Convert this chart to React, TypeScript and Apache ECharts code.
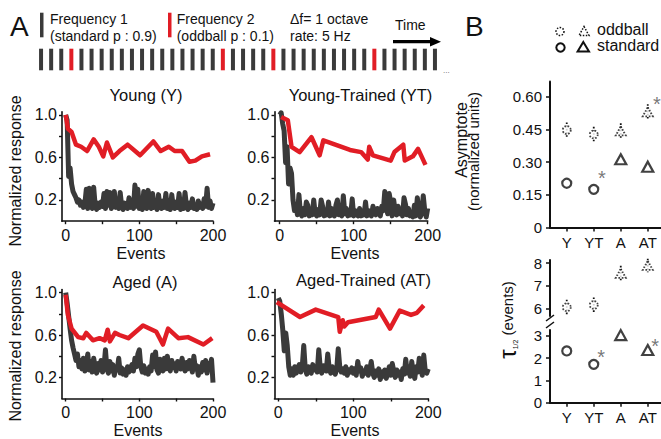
import React, { useEffect, useRef } from 'react';
import * as echarts from 'echarts';

const FONT = '"Liberation Sans", Arial, Helvetica, sans-serif';
const RED = '#e11d25';
const GRAY = '#3a3a3a';
const INK = '#111111';

// ---------- DATA ----------
// stimulus sequence: S = standard (frequency 1), O = oddball (frequency 2)
const sequence = [
  'S','S','S','O','S','S','S','S','S','S',
  'S','S','S','S','S','S','S','S','O','S',
  'S','S','S','O','S','S','S','S','S','S',
  'S','S','S','O','S','S','S','S','S','S',
];

const EVENT_STEP = 2; // gray traces are sampled every 2 events (0..200)

const grayY = [
  1.00, 0.95, 0.42, 0.50, 0.35, 0.28, 0.25, 0.22, 0.18, 0.20,
  0.15, 0.18, 0.13, 0.16, 0.30, 0.12, 0.31, 0.14, 0.12, 0.32,
  0.15, 0.11, 0.17, 0.13, 0.18, 0.14, 0.26, 0.12, 0.28, 0.15,
  0.27, 0.12, 0.16, 0.28, 0.13, 0.18, 0.12, 0.27, 0.14, 0.11,
  0.17, 0.14, 0.12, 0.22, 0.13, 0.16, 0.12, 0.34, 0.14, 0.30,
  0.12, 0.17, 0.11, 0.28, 0.14, 0.12, 0.29, 0.14, 0.12, 0.26,
  0.13, 0.18, 0.11, 0.25, 0.14, 0.12, 0.19, 0.13, 0.26, 0.12,
  0.16, 0.11, 0.25, 0.14, 0.12, 0.18, 0.13, 0.26, 0.11, 0.15,
  0.12, 0.27, 0.14, 0.11, 0.17, 0.13, 0.21, 0.12, 0.15, 0.11,
  0.19, 0.13, 0.16, 0.12, 0.21, 0.14, 0.31, 0.13, 0.19, 0.12,
  0.17,
];
const grayYT = [
  1.00, 1.02, 0.92, 0.85, 0.55, 0.70, 0.35, 0.50, 0.45, 0.20,
  0.10, 0.15, 0.06, 0.25, 0.08, 0.05, 0.12, 0.06, 0.18, 0.15,
  0.05, 0.09, 0.06, 0.20, 0.07, 0.05, 0.11, 0.06, 0.20, 0.14,
  0.05, 0.08, 0.06, 0.18, 0.05, 0.12, 0.06, 0.05, 0.15, 0.20,
  0.06, 0.09, 0.05, 0.24, 0.07, 0.12, 0.05, 0.08, 0.06, 0.21,
  0.05, 0.10, 0.06, 0.05, 0.12, 0.05, 0.08, 0.06, 0.18, 0.05,
  0.10, 0.06, 0.05, 0.14, 0.08, 0.06, 0.12, 0.09, 0.05, 0.14,
  0.10, 0.28, 0.12, 0.07, 0.26, 0.18, 0.05, 0.20, 0.10, 0.06,
  0.14, 0.07, 0.11, 0.05, 0.22, 0.16, 0.06, 0.12, 0.05, 0.08,
  0.04, 0.15, 0.05, 0.22, 0.10, 0.04, 0.08, 0.24, 0.10, 0.04,
  0.12,
];
const grayA = [
  1.00, 0.90, 0.78, 0.66, 0.55, 0.48, 0.42, 0.36, 0.42, 0.30,
  0.36, 0.28, 0.38, 0.26, 0.33, 0.42, 0.27, 0.35, 0.25, 0.38,
  0.30, 0.24, 0.33, 0.27, 0.36, 0.25, 0.30, 0.46, 0.28, 0.24,
  0.35, 0.26, 0.32, 0.22, 0.30, 0.27, 0.38, 0.24, 0.29, 0.23,
  0.27, 0.22, 0.30, 0.25, 0.28, 0.32, 0.26, 0.38, 0.30, 0.42,
  0.46, 0.30, 0.25, 0.31, 0.24, 0.28, 0.23, 0.30, 0.26, 0.41,
  0.30, 0.44, 0.27, 0.24, 0.37, 0.30, 0.26, 0.38, 0.28, 0.40,
  0.30, 0.26, 0.36, 0.29, 0.33, 0.26, 0.35, 0.30, 0.28, 0.38,
  0.30, 0.26, 0.34, 0.28, 0.36, 0.30, 0.25, 0.40, 0.28, 0.31,
  0.22, 0.30, 0.25, 0.34, 0.27, 0.36, 0.24, 0.33, 0.30, 0.37,
  0.15,
];
const grayAT = [
  0.95, 0.92, 0.80, 0.65, 0.45, 0.62, 0.50, 0.30, 0.22, 0.28,
  0.22, 0.30, 0.24, 0.28, 0.32, 0.25, 0.30, 0.50, 0.28, 0.23,
  0.30, 0.26, 0.24, 0.32, 0.27, 0.30, 0.25, 0.46, 0.29, 0.24,
  0.31, 0.27, 0.26, 0.42, 0.28, 0.24, 0.30, 0.26, 0.23, 0.28,
  0.47, 0.30, 0.25, 0.28, 0.24, 0.30, 0.22, 0.27, 0.25, 0.29,
  0.24, 0.28, 0.22, 0.35, 0.26, 0.29, 0.21, 0.26, 0.24, 0.30,
  0.22, 0.27, 0.35, 0.24, 0.20, 0.26, 0.22, 0.28, 0.18, 0.25,
  0.21, 0.27, 0.19, 0.24, 0.30, 0.22, 0.33, 0.26, 0.20, 0.27,
  0.22, 0.25, 0.18, 0.28, 0.23, 0.37, 0.24, 0.30, 0.21, 0.35,
  0.24, 0.19, 0.30, 0.25, 0.38, 0.28, 0.22, 0.41, 0.26, 0.24,
  0.28,
];

// oddball responses: [event, normalized response]
const redY = [
  [0, 1.0], [3, 0.87], [8, 0.84], [14, 0.72], [21, 0.70], [29, 0.66], [38, 0.77],
  [45, 0.70], [51, 0.61], [56, 0.74], [64, 0.60], [73, 0.66], [84, 0.72], [101, 0.62],
  [119, 0.75], [129, 0.66], [140, 0.70], [148, 0.66], [158, 0.66], [168, 0.56],
  [176, 0.57], [185, 0.61], [196, 0.63],
];
const redYT = [
  [2, 0.98], [11, 0.95], [16, 0.70], [27, 0.65], [43, 0.79], [54, 0.62], [59, 0.76],
  [95, 0.67], [110, 0.65], [119, 0.58], [121, 0.70], [126, 0.62], [150, 0.57],
  [155, 0.65], [167, 0.72], [169, 0.57], [180, 0.61], [187, 0.68], [197, 0.53],
];
const redA = [
  [0, 0.98], [3, 0.79], [8, 0.66], [17, 0.58], [24, 0.57], [28, 0.62], [37, 0.55],
  [46, 0.57], [53, 0.55], [57, 0.65], [60, 0.54], [67, 0.62], [73, 0.60], [85, 0.57],
  [105, 0.69], [123, 0.63], [132, 0.51], [139, 0.66], [153, 0.57], [166, 0.58],
  [187, 0.51], [199, 0.57],
];
const redAT = [
  [-2, 0.91], [29, 0.77], [50, 0.84], [80, 0.77], [82, 0.63], [86, 0.74], [88, 0.68],
  [93, 0.72], [130, 0.77], [134, 0.84], [149, 0.66], [162, 0.83], [177, 0.79],
  [185, 0.81], [194, 0.88],
];

const panelXTicks = [0, 50, 100, 150, 200];
const panelXLabels = [0, 100, 200];
const panelYTicks = [0.2, 0.4, 0.6, 0.8, 1.0];
const panelYLabels = [0.2, 0.6, 1.0];

// panel B
const groups = ['Y', 'YT', 'A', 'AT'];
const groupShape = ['circle', 'circle', 'triangle', 'triangle'];
const asymOddball = [0.447, 0.427, 0.443, 0.531];
const asymOddballErr = [0.035, 0.035, 0.035, 0.035];
const asymStandard = [0.203, 0.175, 0.313, 0.279];
const asymTicks = [0, 0.15, 0.3, 0.45, 0.6];
const tauOddball = [6.05, 6.15, 7.55, 7.9];
const tauOddballErr = [0.33, 0.33, 0.33, 0.3];
const tauStandard = [2.32, 1.72, 3.03, 2.36];
const tauUpperTicks = [6, 7, 8];
const tauLowerTicks = [0, 1, 2, 3];
const asymStars = [[1.3, 0.245], [3.34, 0.585]];
const tauStars = [[1.27, 2.23], [3.27, 2.73]];

// ---------- OPTION ----------
function buildOption() {
  const panels = [
    { title: 'Young (Y)', gray: grayY, red: redY, left: 62, top: 111.7, width: 151, height: 109.5, xmin: -5,
      tx: 146, ty: 95, ex: 141, ey: 253 },
    { title: 'Young-Trained (YT)', gray: grayYT, red: redYT, left: 274.5, top: 111.7, width: 153.2, height: 109.5, xmin: -7,
      tx: 360.5, ty: 95, ex: 355, ey: 253 },
    { title: 'Aged (A)', gray: grayA, red: redA, left: 62, top: 289.5, width: 151, height: 109, xmin: -5,
      tx: 145, ty: 281.7, ex: 138, ey: 430 },
    { title: 'Aged-Trained (AT)', gray: grayAT, red: redAT, left: 274.5, top: 289.5, width: 153.75, height: 109, xmin: -5,
      tx: 363.5, ty: 280, ex: 355, ey: 430 },
  ];

  const grid: any[] = [];
  const xAxis: any[] = [];
  const yAxis: any[] = [];
  const series: any[] = [];
  const graphic: any[] = [];

  const baseGrid = { containLabel: false, outerBoundsMode: 'none' };
  const axisLineA = { show: true, onZero: false, lineStyle: { color: INK, width: 1.6 } };
  const axisLineB = { show: true, onZero: false, lineStyle: { color: INK, width: 2 } };

  // grid 0: stimulus sequence
  grid.push({ ...baseGrid, left: 36, top: 48.7, width: 404, height: 21.6 });
  xAxis.push({ type: 'category', gridIndex: 0, data: sequence.map((_, i) => i), show: false });
  yAxis.push({ type: 'value', gridIndex: 0, min: 0, max: 1, show: false });
  series.push({
    type: 'bar', xAxisIndex: 0, yAxisIndex: 0, barWidth: 4,
    data: sequence.map((s) => ({ value: 1, itemStyle: { color: s === 'O' ? RED : GRAY } })),
  });

  // grids 1..4: panel A
  panels.forEach((p, k) => {
    const gi = k + 1;
    grid.push({ ...baseGrid, left: p.left, top: p.top, width: p.width, height: p.height });
    xAxis.push({
      type: 'value', gridIndex: gi, min: p.xmin, max: 200,
      axisLine: axisLineA, splitLine: { show: false },
      axisTick: { show: true, length: 3, customValues: panelXTicks, lineStyle: { color: INK, width: 1.4 } },
      axisLabel: { customValues: panelXLabels, fontSize: 16, fontFamily: FONT, color: INK, margin: 6 },
    });
    yAxis.push({
      type: 'value', gridIndex: gi, min: 0, max: 1.03,
      axisLine: axisLineA, splitLine: { show: false },
      axisTick: { show: true, length: 3, customValues: panelYTicks, lineStyle: { color: INK, width: 1.4 } },
      axisLabel: { customValues: panelYLabels, fontSize: 16, fontFamily: FONT, color: INK, margin: 5,
        formatter: (v: number) => v.toFixed(1) },
    });
    series.push({
      type: 'line', xAxisIndex: gi, yAxisIndex: gi, symbol: 'none',
      lineStyle: { color: GRAY, width: 5, join: 'round' },
      data: p.gray.map((v, i) => [i * EVENT_STEP, v]),
    });
    series.push({
      type: 'line', xAxisIndex: gi, yAxisIndex: gi, symbol: 'none',
      lineStyle: { color: RED, width: 4.5, join: 'round' },
      data: p.red,
    });
    graphic.push({ type: 'text', x: p.tx, y: p.ty,
      style: { text: p.title, fontSize: 16.5, fontFamily: FONT, fill: INK, align: 'center', verticalAlign: 'middle' } });
    graphic.push({ type: 'text', x: p.ex, y: p.ey,
      style: { text: 'Events', fontSize: 16, fontFamily: FONT, fill: INK, align: 'center', verticalAlign: 'middle' } });
  });

  // panel B grids
  const bX = { min: -0.62, max: 3.49 };
  const catLabel = (v: number) => groups[Math.round(v)] ?? '';
  // grid 5: asymptote
  grid.push({ ...baseGrid, left: 550, top: 81.5, width: 111, height: 146 });
  xAxis.push({
    type: 'value', gridIndex: 5, ...bX, axisLine: axisLineB, splitLine: { show: false },
    axisTick: { show: true, length: 4, customValues: [0, 1, 2, 3], lineStyle: { color: INK, width: 1.5 } },
    axisLabel: { customValues: [0, 1, 2, 3], formatter: catLabel, fontSize: 15, fontFamily: FONT, color: INK, margin: 7 },
  });
  yAxis.push({
    type: 'value', gridIndex: 5, min: 0, max: 0.67, axisLine: axisLineB, splitLine: { show: false },
    axisTick: { show: true, length: 4, customValues: asymTicks, lineStyle: { color: INK, width: 1.5 } },
    axisLabel: { customValues: asymTicks, fontSize: 15, fontFamily: FONT, color: INK, margin: 8,
      formatter: (v: number) => (v === 0 ? '0' : v.toFixed(2)) },
  });
  // grid 6: tau upper
  grid.push({ ...baseGrid, left: 550, top: 260, width: 111, height: 56 });
  xAxis.push({ type: 'value', gridIndex: 6, ...bX, show: false });
  yAxis.push({
    type: 'value', gridIndex: 6, min: 5.66, max: 8.14, axisLine: axisLineB, splitLine: { show: false },
    axisTick: { show: true, length: 4, customValues: tauUpperTicks, lineStyle: { color: INK, width: 1.5 } },
    axisLabel: { customValues: tauUpperTicks, fontSize: 15, fontFamily: FONT, color: INK, margin: 8 },
  });
  // grid 7: tau lower
  grid.push({ ...baseGrid, left: 550, top: 330, width: 111, height: 72.7 });
  xAxis.push({
    type: 'value', gridIndex: 7, ...bX, axisLine: axisLineB, splitLine: { show: false },
    axisTick: { show: true, length: 4, customValues: [0, 1, 2, 3], lineStyle: { color: INK, width: 1.5 } },
    axisLabel: { customValues: [0, 1, 2, 3], formatter: catLabel, fontSize: 15, fontFamily: FONT, color: INK, margin: 7 },
  });
  yAxis.push({
    type: 'value', gridIndex: 7, min: 0, max: 3.26, axisLine: axisLineB, splitLine: { show: false },
    axisTick: { show: true, length: 4, customValues: tauLowerTicks, lineStyle: { color: INK, width: 1.5 } },
    axisLabel: { customValues: tauLowerTicks, fontSize: 15, fontFamily: FONT, color: INK, margin: 8 },
  });

  const errorBar = (gi: number, vals: number[], errs: number[]) => ({
    type: 'custom', xAxisIndex: gi, yAxisIndex: gi, encode: { x: 0, y: 1 },
    data: vals.map((v, i) => [i, v, errs[i]]),
    renderItem: (_p: any, api: any) => {
      const x = api.value(0), y = api.value(1), e = api.value(2);
      const a = api.coord([x, y + e]);
      const b = api.coord([x, y - e]);
      return { type: 'line', shape: { x1: a[0], y1: a[1], x2: b[0], y2: b[1] },
        style: { stroke: INK, lineWidth: 1.8, lineDash: [1.6, 1.6] } };
    },
    z: 2,
  });
  const oddScatter = (gi: number, vals: number[]) => ({
    type: 'scatter', xAxisIndex: gi, yAxisIndex: gi, z: 3,
    data: vals.map((v, i) => ({ value: [i, v], symbol: groupShape[i],
      symbolSize: groupShape[i] === 'circle' ? 8 : [10, 9] })),
    itemStyle: { color: '#ffffff', borderColor: INK, borderWidth: 1.8, borderType: [1.6, 1.6] },
  });
  const stdScatter = (gi: number, vals: number[]) => ({
    type: 'scatter', xAxisIndex: gi, yAxisIndex: gi, z: 3,
    data: vals.map((v, i) => ({ value: [i, v], symbol: groupShape[i],
      symbolSize: groupShape[i] === 'circle' ? 9 : [11, 10] })),
    itemStyle: { color: '#ffffff', borderColor: INK, borderWidth: 2.2 },
  });
  const stars = (gi: number, pts: number[][]) => ({
    type: 'scatter', xAxisIndex: gi, yAxisIndex: gi, symbolSize: 1, z: 4,
    itemStyle: { color: 'rgba(0,0,0,0)' },
    data: pts,
    label: { show: true, position: 'inside', formatter: '*', fontSize: 20, fontFamily: FONT, color: '#555', offset: [0, 4] },
  });

  series.push(errorBar(5, asymOddball, asymOddballErr));
  series.push(oddScatter(5, asymOddball));
  series.push(stdScatter(5, asymStandard));
  series.push(stars(5, asymStars));
  series.push(errorBar(6, tauOddball, tauOddballErr));
  series.push(oddScatter(6, tauOddball));
  series.push(stdScatter(7, tauStandard));
  series.push(stars(7, tauStars));

  // ----- free texts & schematic -----
  const txt = (x: number, y: number, text: string, fontSize: number, extra: any = {}) => ({
    type: 'text', x, y, ...extra,
    style: { text, fontSize, fontFamily: FONT, fill: INK, align: 'left', verticalAlign: 'middle', ...(extra.style || {}) },
  });
  const vtxt = (x: number, y: number, text: string, fontSize: number) => ({
    type: 'text', x, y, rotation: Math.PI / 2,
    style: { text, fontSize, fontFamily: FONT, fill: INK, align: 'center', verticalAlign: 'middle' },
  });
  graphic.push(txt(10, 26, 'A', 28));
  graphic.push({ type: 'rect', shape: { x: 40, y: 12.7, width: 3.5, height: 24.6 }, style: { fill: GRAY } });
  graphic.push(txt(50, 19, 'Frequency 1', 14));
  graphic.push(txt(50, 36, '(standard p : 0.9)', 14));
  graphic.push({ type: 'rect', shape: { x: 168, y: 12.7, width: 3.5, height: 24.6 }, style: { fill: RED } });
  graphic.push(txt(176.7, 19, 'Frequency 2', 14));
  graphic.push(txt(176.7, 36, '(oddball p : 0.1)', 14));
  graphic.push(txt(290, 19, '\u0394f= 1 octave', 14));
  graphic.push(txt(290, 36, 'rate: 5 Hz', 14));
  graphic.push(txt(395, 25, 'Time', 14));
  graphic.push({ type: 'line', shape: { x1: 393, y1: 41.7, x2: 432, y2: 41.7 }, style: { stroke: '#000', lineWidth: 3.2 } });
  graphic.push({ type: 'polygon', shape: { points: [[430, 37], [441, 41.7], [430, 46.4]] }, style: { fill: '#000' } });
  graphic.push(txt(443, 70, '...', 8, { style: { fill: '#666' } }));

  graphic.push(vtxt(15, 171, 'Normalized response', 16));
  graphic.push(vtxt(15, 346, 'Normalized response', 16));

  // panel B labels
  graphic.push(txt(465, 26, 'B', 28));
  graphic.push({ type: 'circle', shape: { cx: 560, cy: 31.5, r: 4 },
    style: { fill: '#fff', stroke: INK, lineWidth: 1.5, lineDash: [1.5, 1.5] } });
  graphic.push({ type: 'polygon', shape: { points: [[584, 26.5], [589, 35.5], [579, 35.5]] },
    style: { fill: '#fff', stroke: INK, lineWidth: 1.5, lineDash: [1.5, 1.5] } });
  graphic.push({ type: 'circle', shape: { cx: 560.5, cy: 47.5, r: 4.2 },
    style: { fill: '#fff', stroke: INK, lineWidth: 2 } });
  graphic.push({ type: 'polygon', shape: { points: [[583.3, 42], [589, 51.5], [577.6, 51.5]] },
    style: { fill: '#fff', stroke: INK, lineWidth: 2 } });
  graphic.push(txt(597, 29.3, 'oddball', 16));
  graphic.push(txt(597, 45.7, 'standard', 16));

  graphic.push(vtxt(461, 140, 'Asymptote', 16));
  graphic.push(vtxt(473, 151.5, '(normalized units)', 15));

  // tau axis title as one rotated rich text: τ, subscript 1/2, (events)
  graphic.push({
    type: 'text', x: 507, y: 320, rotation: Math.PI / 2,
    style: {
      text: '{t|\u03c4}{s|1/2}{e| (events)}',
      fontFamily: FONT, fill: INK, align: 'center', verticalAlign: 'middle',
      rich: {
        t: { fontSize: 24, fontFamily: FONT, fill: INK, verticalAlign: 'middle' },
        s: { fontSize: 7, fontFamily: FONT, fill: INK, verticalAlign: 'bottom' },
        e: { fontSize: 15, fontFamily: FONT, fill: INK, verticalAlign: 'middle' },
      },
    },
  });

  // axis break marks
  graphic.push({ type: 'rect', shape: { x: 545, y: 316, width: 10, height: 14 }, style: { fill: '#fff' } });
  graphic.push({ type: 'line', shape: { x1: 546, y1: 321, x2: 554, y2: 315 }, style: { stroke: INK, lineWidth: 1.5 } });
  graphic.push({ type: 'line', shape: { x1: 546, y1: 328, x2: 554, y2: 322 }, style: { stroke: INK, lineWidth: 1.5 } });

  return {
    animation: false,
    backgroundColor: '#ffffff',
    textStyle: { fontFamily: FONT },
    grid, xAxis, yAxis, series, graphic,
  };
}

export default function App() {
  const ref = useRef<HTMLDivElement>(null);
  useEffect(() => {
    const chart = echarts.init(ref.current as HTMLDivElement, null, { renderer: 'svg' });
    chart.setOption(buildOption() as any);
    return () => chart.dispose();
  }, []);
  return (
    <div
      ref={ref}
      style={{ position: 'fixed', left: 0, top: 0, width: 661, height: 439, background: '#fff' }}
    />
  );
}
